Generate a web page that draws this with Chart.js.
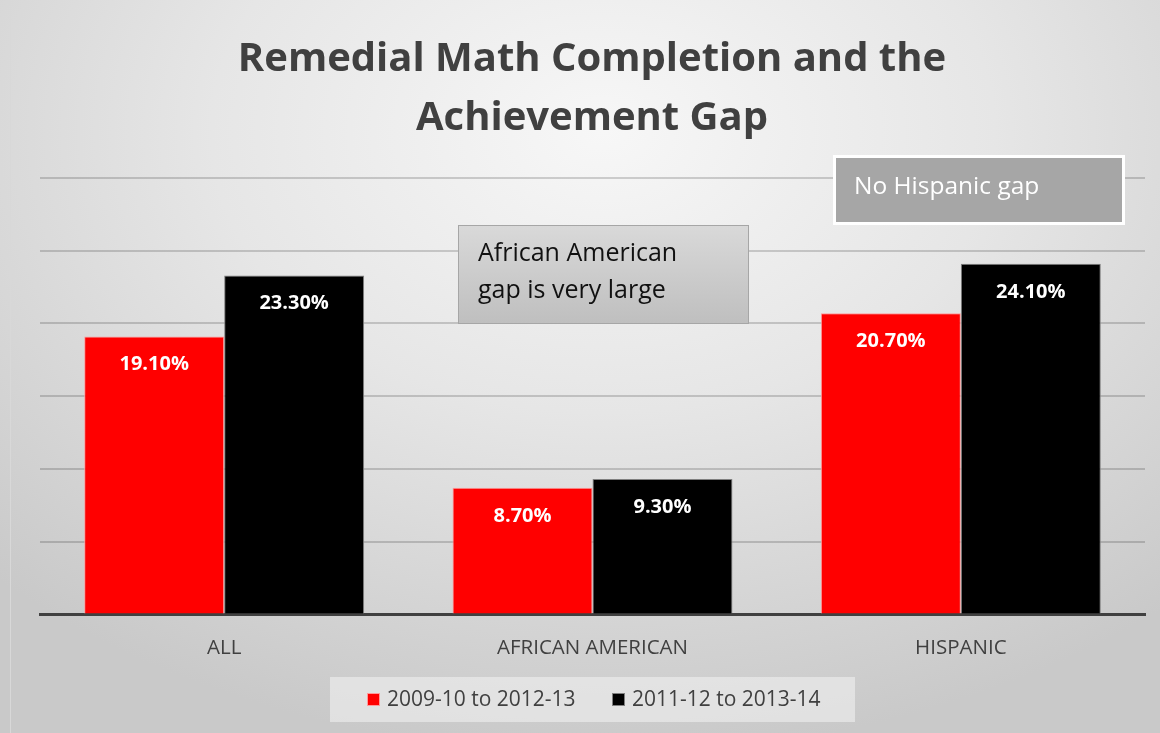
<!DOCTYPE html>
<html>
<head>
<meta charset="utf-8">
<script src="https://cdn.jsdelivr.net/npm/chart.js@4/dist/chart.umd.min.js"></script>
<style>
  html, body { margin: 0; padding: 0; background: #fff; }
  #wrap {
    position: absolute; left: 0; top: 0; width: 1160px; height: 733px;
    background: radial-gradient(ellipse 75% 85% at 52% 18%, #f7f7f7 0%, #e6e6e6 45%, #c9c9c9 100%);
  }
  #edge { position: absolute; left: 10px; top: 0; width: 1px; height: 733px; background: #d8d8d8; }
</style>
</head>
<body>
<div id="wrap"><div id="edge"></div><canvas id="grafico1" width="1160" height="733"></canvas></div>
<script>
// data
const categories = ['ALL', 'AFRICAN AMERICAN', 'HISPANIC'];
const seriesNames = ['2009-10 to 2012-13', '2011-12 to 2013-14'];
const cohort1 = [19.1, 8.7, 20.7];
const cohort2 = [23.3, 9.3, 24.1];
const titleLines = ['Remedial Math Completion and the', 'Achievement Gap'];
const noteAA = ['African American', 'gap is very large'];
const noteHisp = ['No Hispanic gap'];

const textFont = '"Open Sans", "Noto Sans", sans-serif';

// title, value labels, notes and legend box
const extras = {
   id: 'extras',
   afterDatasetsDraw(chart) {
      const ctx = chart.ctx;
      ctx.save();
      // value labels inside top of bars
      ctx.fillStyle = '#ffffff';
      ctx.font = 'bold 20px ' + textFont;
      ctx.textAlign = 'center';
      ctx.textBaseline = 'middle';
      chart.data.datasets.forEach((ds, i) => {
         chart.getDatasetMeta(i).data.forEach((bar, j) => {
            ctx.fillText(ds.data[j].toFixed(2) + '%', bar.x, bar.y + 28);
         });
      });

      // title
      ctx.fillStyle = '#404040';
      ctx.font = 'bold 40px ' + textFont;
      ctx.fillText(titleLines[0], 592, 60);
      ctx.fillText(titleLines[1], 592, 119);

      // African American note
      let g = ctx.createLinearGradient(0, 225, 0, 323);
      g.addColorStop(0, '#d9d9d9');
      g.addColorStop(1, '#bfbfbf');
      ctx.fillStyle = g;
      ctx.fillRect(458, 225, 290, 98);
      ctx.strokeStyle = '#a6a6a6';
      ctx.lineWidth = 1;
      ctx.strokeRect(458.5, 225.5, 290, 98);
      ctx.fillStyle = '#111111';
      ctx.font = '25px ' + textFont;
      ctx.textAlign = 'left';
      ctx.fillText(noteAA[0], 478, 254);
      ctx.fillText(noteAA[1], 478, 291);

      // Hispanic note
      ctx.fillStyle = '#ffffff';
      ctx.fillRect(833, 155, 292, 70);
      ctx.fillStyle = '#a6a6a6';
      ctx.fillRect(836, 158, 286, 64);
      ctx.fillStyle = '#ffffff';
      ctx.font = '24.5px ' + textFont;
      ctx.fillText(noteHisp[0], 854, 187);

      // legend
      ctx.fillStyle = 'rgba(240,240,240,0.6)';
      ctx.fillRect(330, 677, 525, 45);
      const lx = [367, 612];
      ctx.font = '21px ' + textFont;
      chart.data.datasets.forEach((ds, i) => {
         ctx.fillStyle = ds.backgroundColor;
         ctx.fillRect(lx[i], 693, 13, 13);
         ctx.strokeStyle = ds.borderColor;
         ctx.strokeRect(lx[i] + 0.5, 693.5, 12, 12);
         ctx.fillStyle = '#404040';
         ctx.fillText(ds.label, lx[i] + 20, 700);
      });
      ctx.restore();
   }
};

const grafico1 = document.getElementById('grafico1').getContext('2d');
const chart1 = new Chart(grafico1, {
   type: 'bar',
   data: {
      labels: categories,
      datasets: [
         {
            label: seriesNames[0],
            data: cohort1,
            backgroundColor: '#ff0000',
            borderColor: '#ff9a9a',
            borderWidth: 1
         },
         {
            label: seriesNames[1],
            data: cohort2,
            backgroundColor: '#000000',
            borderColor: '#7f7f7f',
            borderWidth: 1
         }
      ]
   },
   options: {
      responsive: false,
      animation: false,
      layout: { padding: { left: 40, right: 15, top: 178, bottom: 60 } },
      plugins: {
         legend: { display: false },
         title: { display: false },
         tooltip: { enabled: false }
      },
      datasets: { bar: { categoryPercentage: 0.76, barPercentage: 1 } },
      scales: {
         x: {
            grid: { display: false },
            border: { display: true, color: '#404040', width: 3 },
            ticks: { color: '#404040', font: { family: textFont, size: 20.5 }, padding: 13 }
         },
         y: {
            min: 0,
            max: 30,
            ticks: { display: false, stepSize: 5 },
            grid: { color: 'rgba(0,0,0,0.17)', lineWidth: 2, drawTicks: false },
            border: { display: false }
         }
      }
   },
   plugins: [extras]
});
</script>
</body>
</html>
